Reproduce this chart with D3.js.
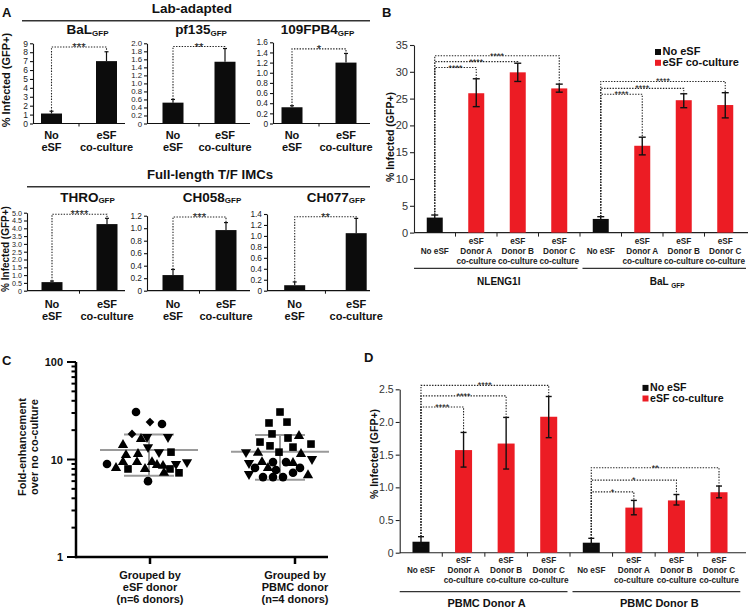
<!DOCTYPE html>
<html><head><meta charset="utf-8">
<script src="https://cdn.jsdelivr.net/npm/d3@7"></script>
<style>body{margin:0;background:#fff}svg{display:block}</style>
</head><body><script>
// ================= DATA =================
// Panel A
const aSections = ["Lab-adapted", "Full-length T/F IMCs"];
const aTitles = ["BaL", "pf135", "109FPB4", "THRO", "CH058", "CH077"];
const aCategories = ["No|eSF", "eSF|co-culture"];
const aNoEsf = [1.12, 0.52, 0.32, 0.55, 0.25, 0.10];
const aNoEsfErr = [1.38, 0.60, 0.35, 0.62, 0.34, 0.16];
const aEsf = [7.0, 1.54, 1.20, 4.27, 0.97, 1.05];
const aEsfErr = [8.05, 1.87, 1.38, 4.64, 1.09, 1.32];
const aYMax = [9, 2.0, 1.6, 5.0, 1.2, 1.4];
const aTickStep = [1, 0.2, 0.2, 0.5, 0.2, 0.2];
const aBracket = [8.58, 1.92, 1.47, 4.9, 1.18, 1.35];
const aStars = ["***", "**", "*", "****", "***", "**"];

// Panel B
const bCategories = ["No eSF", "eSF|Donor A|co-culture", "eSF|Donor B|co-culture", "eSF|Donor C|co-culture"];
const bGroups = ["NLENG1I", "BaL"];
const bNLENG = [2.8, 26.0, 29.9, 26.9];
const bNLENGLo = [2.5, 23.5, 28.2, 26.2];
const bNLENGHi = [3.28, 28.7, 31.6, 27.7];
const bBaL = [2.55, 16.2, 24.7, 23.8];
const bBaLLo = [2.3, 14.5, 23.3, 21.4];
const bBaLHi = [2.97, 17.8, 25.9, 26.1];
const bBracketNLENG = [30.8, 31.9, 33.0];
const bBracketBaL = [25.8, 26.9, 28.2];
const bStarsNLENG = ["****", "****", "****"];
const bStarsBaL = ["****", "****", "****"];
const bTicks = [0, 5, 10, 15, 20, 25, 30, 35];

// Panel C
const cGroups = ["Grouped by|eSF donor|(n=6 donors)", "Grouped by|PBMC donor|(n=4 donors)"];
const cMeans = [12.5, 12.0];
const cSdHi = [18.1, 17.8];
const cSdLo = [6.8, 6.2];
const cG1Values = [30.7,24.2,23.1,18.3,16.2,17.0,17.0,14.1,13.4,11.9,11.9,11.1,11.4,9.0,8.2,9.4,9.4,8.0,9.4,8.8,8.0,8.6,9.0,9.4,7.3,8.0,7.3,6.0];
const cG1Shapes = ["c","d","c","d","t","v","v","t","v","s","v","t","t","c","t","t","t","s","t","t","t","t","v","v","t","s","s","c"];
const cG1Jitter = [-0.28,0,0.24,-0.36,-0.18,-0.06,0.36,-0.54,-0.04,0.42,0.18,-0.48,-0.24,-0.86,-0.68,-0.54,-0.26,-0.44,0.04,0.14,-0.1,0.26,0.52,0.74,0.28,0.4,0.58,-0.04];
const cG2Values = [30.7,23.7,24.2,18.3,15.1,16.6,17.4,13.8,13.4,14.4,11.9,11.9,11.7,11.4,10.1,9.2,9.4,9.4,9.4,9.2,8.2,8.2,7.8,8.2,7.1,6.6,6.6,6.6,7.3,6.9];
const cG2Shapes = ["s","s","s","s","s","s","t","s","s","s","s","v","t","t","v","v","t","c","c","t","c","t","c","c","v","c","c","c","c","t"];
const cG2Jitter = [0,-0.22,0.14,-0.16,-0.4,0.16,0.38,-0.2,0.26,0.62,-0.02,-0.68,-0.44,0.42,0.64,-0.62,-0.36,-0.14,0.12,0.26,-0.5,-0.24,-0.08,0.4,-0.62,-0.34,-0.14,0.06,0.26,0.56];

// Panel D
const dCategories = bCategories;
const dGroups = ["PBMC Donor A", "PBMC Donor B"];
const dDonorA = [0.168, 1.57, 1.67, 2.08];
const dDonorALo = [0.10, 1.31, 1.28, 1.76];
const dDonorAHi = [0.245, 1.84, 2.07, 2.39];
const dDonorB = [0.153, 0.69, 0.80, 0.925];
const dDonorBLo = [0.09, 0.58, 0.73, 0.84];
const dDonorBHi = [0.22, 0.80, 0.89, 1.02];
const dBracketA = [2.23, 2.40, 2.56];
const dBracketB = [0.93, 1.11, 1.30];
const dStarsA = ["****", "****", "****"];
const dStarsB = ["*", "*", "**"];
const dTicks = [0, 0.5, 1.0, 1.5, 2.0, 2.5];

const legendLabels = ["No eSF", "eSF co-culture"];

// ================= DRAWING =================
const FONT = '"Liberation Sans", Arial, Helvetica, sans-serif';
const RED = "#ec1c24", BLACK = "#0c0c0c", INK = "#111";
const svg = d3.select("body").append("svg").attr("width", 749).attr("height", 607)
  .attr("font-family", FONT);

function txt(p, x, y, s, o = {}) {
  return p.append("text").attr("x", x).attr("y", y).text(s)
    .attr("font-size", o.fs || 10).attr("font-weight", o.fw || "bold")
    .attr("text-anchor", o.anchor || "middle").attr("fill", o.fill || INK);
}
function stars(p, x, lineY, s, fs) {
  txt(p, x, lineY + 0.40 * fs - 0.6, s, { fs: fs, fw: "normal" });
}
function dotted(p, d) {
  p.append("path").attr("d", d).attr("fill", "none").attr("stroke", "#222")
    .attr("stroke-width", 1.1).attr("stroke-dasharray", "1.4,1.4");
}
function subTitle(p, x, y, main, sub, fs, sfs, dy) {
  const t = p.append("text").attr("x", x).attr("y", y).attr("text-anchor", "middle")
    .attr("font-weight", "bold").attr("fill", INK).attr("font-size", fs);
  t.append("tspan").text(main);
  t.append("tspan").text(sub).attr("font-size", sfs).attr("dy", dy);
  return t;
}
function rotLabel(p, x, y, s, fs) {
  p.append("text").attr("transform", `translate(${x},${y}) rotate(-90)`)
    .attr("text-anchor", "middle").attr("font-size", fs).attr("font-weight", "bold")
    .attr("fill", INK).text(s);
}

// ---------- Panel A ----------
const gA = svg.append("g");
txt(gA, 2, 17, "A", { fs: 13, anchor: "start" });
txt(gA, 192, 12.5, aSections[0], { fs: 13.5 });
gA.append("line").attr("x1", 22).attr("x2", 370).attr("y1", 20.7).attr("y2", 20.7).attr("stroke", "#333").attr("stroke-width", 1.4);
txt(gA, 210, 178.5, aSections[1], { fs: 13.2 });
gA.append("line").attr("x1", 27).attr("x2", 370).attr("y1", 186.7).attr("y2", 186.7).attr("stroke", "#333").attr("stroke-width", 1.4);
rotLabel(gA, 10, 80, "% Infected (GFP+)", 11);
rotLabel(gA, 9, 249, "% Infected (GFP+)", 10);

const aLayout = [
  { ax: 33, c1: 51.5, c2: 106.5, xe: 125, y0: 123.5, y1: 43.3, tx: 87.5, ty: 34, lab: 139.3, tfs: 8.5 },
  { ax: 147, c1: 173, c2: 225, xe: 250, y0: 123.5, y1: 43.3, tx: 201, ty: 34, lab: 139.3, tfs: 7.8 },
  { ax: 273, c1: 292, c2: 346, xe: 370, y0: 123.5, y1: 42.3, tx: 317.5, ty: 34, lab: 139.3, tfs: 8.3 },
  { ax: 27, c1: 52, c2: 107, xe: 125, y0: 290.7, y1: 212.7, tx: 87.5, ty: 201.7, lab: 308.3, tfs: 7.2 },
  { ax: 147, c1: 173, c2: 226, xe: 250, y0: 290.7, y1: 215.7, tx: 212, ty: 201.7, lab: 308.3, tfs: 8.3 },
  { ax: 267, c1: 294.7, c2: 356.2, xe: 370, y0: 290.7, y1: 214, tx: 336, ty: 201.7, lab: 308.3, tfs: 8.3 }
];
const aBarW = 21;
aTitles.forEach((title, i) => {
  const L = aLayout[i];
  const step = L.c2 - L.c1, pad = 1 - aBarW / step;
  const x = d3.scaleBand().domain(aCategories).range([L.c1 - step / 2, L.c2 + step / 2])
    .paddingInner(pad).paddingOuter(pad / 2);
  const y = d3.scaleLinear().domain([0, aYMax[i]]).range([L.y0, L.y1]);
  const g = gA.append("g");
  const tv = d3.range(0, aYMax[i] + 1e-6, aTickStep[i]);
  const fmt = aTickStep[i] >= 1 ? d3.format("d") : (d => Math.abs(d) < 1e-9 ? "0" : d3.format(".1f")(d));
  g.append("g").attr("transform", `translate(${L.ax},0)`)
    .call(d3.axisLeft(y).tickValues(tv).tickSize(3).tickSizeOuter(0).tickPadding(2).tickFormat(fmt))
    .attr("font-family", FONT).attr("font-size", L.tfs)
    .call(s => s.selectAll("path,line").attr("stroke", INK).attr("stroke-width", 1.1))
    .call(s => s.selectAll("text").attr("fill", "#222"));
  g.append("line").attr("x1", L.ax).attr("x2", L.xe).attr("y1", L.y0).attr("y2", L.y0).attr("stroke", INK).attr("stroke-width", 1.2);
  g.append("line").attr("x1", (L.c1 + L.c2) / 2).attr("x2", (L.c1 + L.c2) / 2).attr("y1", L.y0).attr("y2", L.y0 + 3).attr("stroke", INK);
  const vals = [aNoEsf[i], aEsf[i]], errs = [aNoEsfErr[i], aEsfErr[i]];
  const centers = [];
  aCategories.forEach((c, k) => {
    const cx = x(c) + x.bandwidth() / 2;
    centers.push(cx);
    g.append("rect").attr("x", x(c)).attr("width", x.bandwidth()).attr("y", y(vals[k]))
      .attr("height", L.y0 - y(vals[k])).attr("fill", BLACK);
    g.append("line").attr("x1", cx).attr("x2", cx).attr("y1", y(vals[k])).attr("y2", y(errs[k])).attr("stroke", INK).attr("stroke-width", 1.2);
    g.append("line").attr("x1", cx - 2).attr("x2", cx + 2).attr("y1", y(errs[k])).attr("y2", y(errs[k])).attr("stroke", INK).attr("stroke-width", 1.2);
    c.split("|").forEach((ln, j) => txt(g, cx, L.lab + j * 11.7, ln, { fs: 11 }));
  });
  const yb = y(aBracket[i]);
  dotted(g, `M${centers[0]},${y(errs[0])}V${yb}H${centers[1]}V${y(errs[1])}`);
  stars(g, (centers[0] + centers[1]) / 2, yb, aStars[i], 11.5);
  subTitle(g, L.tx, L.ty, title, "GFP", 13.5, 8, 1.5);
});

// ---------- Grouped bar panels (B, D) ----------
function groupedPanel(cfg) {
  const g = svg.append("g");
  const keys = [];
  cfg.groups.forEach((gr, gi) => cfg.cats.forEach((c, ci) => keys.push(gi + "|" + ci)));
  const x = d3.scaleBand().domain(keys).range([cfg.x0, cfg.x1]).paddingInner(cfg.pad).paddingOuter(cfg.pad / 2);
  const y = d3.scaleLinear().domain([0, cfg.yMax]).range([cfg.yBase, cfg.yTop]);
  const bw = x.bandwidth(), gap = x.step() - bw;
  g.append("g").attr("transform", `translate(${cfg.x0},0)`)
    .call(d3.axisLeft(y).tickValues(cfg.ticks).tickSize(4).tickSizeOuter(0).tickPadding(2).tickFormat(cfg.fmt))
    .attr("font-family", FONT).attr("font-size", cfg.tickFs)
    .call(s => s.selectAll("path,line").attr("stroke", "#222").attr("stroke-width", 1.1))
    .call(s => s.selectAll("text").attr("fill", "#333"));
  g.append("line").attr("x1", cfg.x0).attr("x2", cfg.xEnd).attr("y1", cfg.yBase).attr("y2", cfg.yBase).attr("stroke", "#222").attr("stroke-width", 1.1);
  keys.forEach((k, i) => {
    if (i === 0) return;
    const bx = x(k) - gap / 2;
    g.append("line").attr("x1", bx).attr("x2", bx).attr("y1", cfg.yBase).attr("y2", cfg.yBase + 4).attr("stroke", "#222");
  });
  cfg.groups.forEach((gr, gi) => {
    const centers = cfg.cats.map((c, ci) => x(gi + "|" + ci) + bw / 2);
    cfg.cats.forEach((c, ci) => {
      const k = gi + "|" + ci, v = cfg.vals[gi][ci], lo = cfg.lo[gi][ci], hi = cfg.hi[gi][ci];
      const cx = centers[ci];
      g.append("rect").attr("x", x(k)).attr("width", bw).attr("y", y(v)).attr("height", cfg.yBase - y(v))
        .attr("fill", ci === 0 ? BLACK : RED);
      g.append("line").attr("x1", cx).attr("x2", cx).attr("y1", y(lo)).attr("y2", y(hi)).attr("stroke", INK).attr("stroke-width", 1.4);
      [lo, hi].forEach(e => g.append("line").attr("x1", cx - cfg.cap).attr("x2", cx + cfg.cap)
        .attr("y1", y(e)).attr("y2", y(e)).attr("stroke", INK).attr("stroke-width", 1.4));
      const lines = c.split("|");
      const start = lines.length === 1 ? 1 : 0;
      lines.forEach((ln, j) => txt(g, cx, cfg.yBase + cfg.lab0 + (j + start) * 10, ln, { fs: 8.2, fill: "#222" }));
    });
    // brackets
    cfg.brackets[gi].forEach((bv, b) => {
      const yb = y(bv);
      dotted(g, `M${centers[0]},${y(cfg.hi[gi][0])}V${yb}H${centers[b + 1]}V${y(cfg.hi[gi][b + 1])}`);
      stars(g, (centers[0] + centers[b + 1]) / 2, yb, cfg.stars[gi][b], cfg.starFs);
    });
    // group line + label
    const s0 = x(gi + "|0") - gap / 2 + (gi > 0 ? 2.5 : 0);
    const s1 = x(gi + "|" + (cfg.cats.length - 1)) + bw + gap / 2 - (gi < cfg.groups.length - 1 ? 2.5 : 0);
    g.append("line").attr("x1", s0).attr("x2", Math.min(s1, cfg.xEnd)).attr("y1", cfg.groupLineY).attr("y2", cfg.groupLineY)
      .attr("stroke", "#333").attr("stroke-width", 1.3);
    const mx = (s0 + s1) / 2 + cfg.groupShift;
    if (cfg.groupSub && cfg.groupSub[gi]) subTitle(g, mx, cfg.groupLabY, gr + " ", cfg.groupSub[gi], cfg.groupFs, 6.5, 3);
    else txt(g, mx, cfg.groupLabY, gr, { fs: cfg.groupFs });
  });
  // legend
  legendLabels.forEach((l, i) => {
    const ly = cfg.legY + i * cfg.legLh;
    g.append("rect").attr("x", cfg.legX).attr("y", ly - 6.3).attr("width", 6).attr("height", 6).attr("fill", i === 0 ? BLACK : RED);
    txt(g, cfg.legX + 7.5, ly, l, { fs: cfg.legFs, anchor: "start" });
  });
  rotLabel(g, cfg.ylabX, cfg.ylabY, "% Infected (GFP+)", cfg.ylabFs);
  txt(g, cfg.letterX, cfg.letterY, cfg.letter, { fs: 13, anchor: "start" });
}

groupedPanel({
  letter: "B", letterX: 382, letterY: 17.3,
  groups: bGroups, groupSub: [null, "GFP"], cats: bCategories,
  vals: [bNLENG, bBaL], lo: [bNLENGLo, bBaLLo], hi: [bNLENGHi, bBaLHi],
  brackets: [bBracketNLENG, bBracketBaL], stars: [bStarsNLENG, bStarsBaL], starFs: 9,
  x0: 414, x1: 746, xEnd: 748, pad: 1 - 16 / 41.5, yMax: 35, yBase: 232.6, yTop: 45,
  ticks: bTicks, fmt: d3.format("d"), tickFs: 11, cap: 3.5,
  lab0: 11, groupLineY: 268.3, groupLabY: 285, groupFs: 10, groupShift: 3,
  legX: 655, legY: 55.3, legLh: 10.8, legFs: 11, ylabX: 393.5, ylabY: 137, ylabFs: 10.5
});

groupedPanel({
  letter: "D", letterX: 364, letterY: 361.7,
  groups: dGroups, groupSub: null, cats: dCategories,
  vals: [dDonorA, dDonorB], lo: [dDonorALo, dDonorBLo], hi: [dDonorAHi, dDonorBHi],
  brackets: [dBracketA, dBracketB], stars: [dStarsA, dStarsB], starFs: 9,
  x0: 399.7, x1: 740.3, xEnd: 746, pad: 1 - 17 / 42.57, yMax: 2.5, yBase: 552.7, yTop: 389.3,
  ticks: dTicks, fmt: d => d === 0 ? "0" : d3.format(".1f")(d), tickFs: 10.5, cap: 3,
  lab0: 10, groupLineY: 591.7, groupLabY: 606.5, groupFs: 11, groupShift: 3,
  legX: 642.5, legY: 391.2, legLh: 10.6, legFs: 10.6, ylabX: 377.5, ylabY: 454, ylabFs: 10.5
});

// ---------- Panel C ----------
const gC = svg.append("g");
txt(gC, 2, 365, "C", { fs: 13, anchor: "start" });
const yC = d3.scaleLog().domain([1, 100]).range([557, 362]);
const xC = d3.scalePoint().domain(cGroups).range([150, 295]);
const cCenterShift = [0, -15];
const jit = d3.scaleLinear().domain([-1, 1]).range([-50, 50]);
// axes
gC.append("line").attr("x1", 76).attr("x2", 76).attr("y1", yC(1) + 1.2).attr("y2", yC(100)).attr("stroke", "#000").attr("stroke-width", 2.5);
gC.append("line").attr("x1", 75).attr("x2", 328).attr("y1", yC(1)).attr("y2", yC(1)).attr("stroke", "#000").attr("stroke-width", 2.5);
yC.ticks().forEach(t => {
  const major = Math.abs(Math.log10(t) - Math.round(Math.log10(t))) < 1e-9;
  gC.append("line").attr("x1", major ? 67 : 71.5).attr("x2", 76).attr("y1", yC(t)).attr("y2", yC(t))
    .attr("stroke", "#000").attr("stroke-width", 2);
  if (major) txt(gC, 63, yC(t) + 4, d3.format("d")(t), { fs: 11, anchor: "end" });
});
cGroups.forEach((gname, gi) => {
  const gx = xC(gname);
  gC.append("line").attr("x1", gx).attr("x2", gx).attr("y1", yC(1)).attr("y2", yC(1) + 7).attr("stroke", "#000").attr("stroke-width", 2.5);
  gname.split("|").forEach((ln, j) => txt(gC, gx, 578.5 + j * 12, ln, { fs: 11 }));
});
const gtxt = gC.append("text").attr("transform", "translate(26,447) rotate(-90)")
  .attr("text-anchor", "middle").attr("font-size", 11).attr("font-weight", "bold").attr("fill", INK);
gtxt.append("tspan").attr("x", 0).attr("dy", 0).text("Fold-enhancement");
gtxt.append("tspan").attr("x", 0).attr("dy", 12).text("over no co-culture");

// summary lines (mean, SD)
cGroups.forEach((gname, gi) => {
  const cx = xC(gname) + cCenterShift[gi] - (gi === 0 ? 1 : 0);
  const gray = "#9a9a9a";
  const ln = (x1, x2, y1, y2) => gC.append("line").attr("x1", x1).attr("x2", x2).attr("y1", y1).attr("y2", y2)
    .attr("stroke", gray).attr("stroke-width", 2);
  ln(cx - 49, cx + 49, yC(cMeans[gi]), yC(cMeans[gi]));
  ln(cx - 25, cx + 25, yC(cSdHi[gi]), yC(cSdHi[gi]));
  ln(cx - 25, cx + 25, yC(cSdLo[gi]), yC(cSdLo[gi]));
  ln(cx, cx, yC(cSdHi[gi]), yC(cSdLo[gi]));
});
// points
const symFor = s => ({
  c: d3.symbol().type(d3.symbolCircle).size(58),
  s: d3.symbol().type(d3.symbolSquare).size(58),
  t: d3.symbol().type(d3.symbolTriangle).size(46),
  v: d3.symbol().type(d3.symbolTriangle).size(46),
  d: d3.symbol().type(d3.symbolSquare).size(38)
})[s];
const rotFor = s => s === "v" ? 180 : (s === "d" ? 45 : 0);
[[cG1Values, cG1Shapes, cG1Jitter], [cG2Values, cG2Shapes, cG2Jitter]].forEach(([vals, shapes, jits], gi) => {
  const cx = xC(cGroups[gi]) + cCenterShift[gi];
  vals.forEach((v, k) => {
    gC.append("path").attr("d", symFor(shapes[k])())
      .attr("transform", `translate(${cx + jit(jits[k])},${yC(v)}) rotate(${rotFor(shapes[k])})`)
      .attr("fill", "#000");
  });
});
</script></body></html>
